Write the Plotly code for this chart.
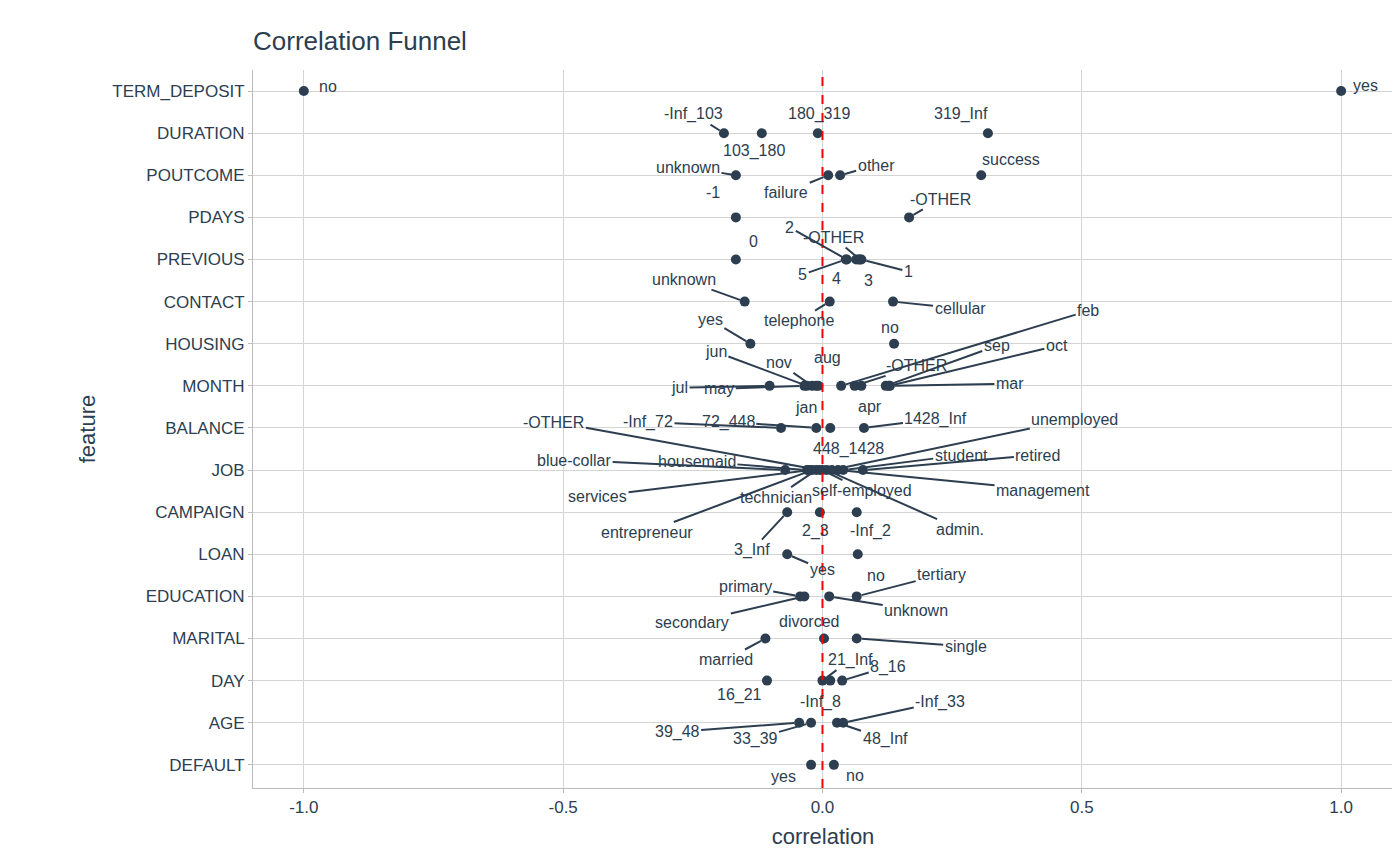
import plotly.graph_objects as go

features = ["TERM_DEPOSIT","DURATION","POUTCOME","PDAYS","PREVIOUS","CONTACT","HOUSING","MONTH",
            "BALANCE","JOB","CAMPAIGN","LOAN","EDUCATION","MARITAL","DAY","AGE","DEFAULT"]

point_feature = (["TERM_DEPOSIT"]*2 + ["DURATION"]*4 + ["POUTCOME"]*4 + ["PDAYS"]*2 + ["PREVIOUS"]*7
    + ["CONTACT"]*3 + ["HOUSING"]*2 + ["MONTH"]*12 + ["BALANCE"]*4 + ["JOB"]*12 + ["CAMPAIGN"]*3
    + ["LOAN"]*2 + ["EDUCATION"]*4 + ["MARITAL"]*3 + ["DAY"]*4 + ["AGE"]*4 + ["DEFAULT"]*2)
point_level = ["no","yes",
    "-Inf_103","103_180","180_319","319_Inf",
    "unknown","failure","other","success",
    "-1","-OTHER",
    "0","1","2","3","4","5","-OTHER",
    "unknown","telephone","cellular",
    "yes","no",
    "jul","may","jun","nov","aug","jan","feb","-OTHER","apr","sep","oct","mar",
    "-Inf_72","72_448","448_1428","1428_Inf",
    "blue-collar","housemaid","services","entrepreneur","technician","-OTHER","self-employed","admin.","unemployed","management","student","retired",
    "3_Inf","2_3","-Inf_2",
    "yes","no",
    "primary","secondary","unknown","tertiary",
    "married","divorced","single",
    "16_21","21_Inf","-Inf_8","8_16",
    "39_48","33_39","48_Inf","-Inf_33",
    "yes","no"]
point_corr = [-1.0, 1.0,
    -0.19, -0.117, -0.009, 0.319,
    -0.167, 0.011, 0.034, 0.306,
    -0.167, 0.167,
    -0.167, 0.075, 0.047, 0.07, 0.065, 0.045, 0.072,
    -0.15, 0.014, 0.136,
    -0.139, 0.138,
    -0.102, -0.035, -0.03, -0.02, -0.012, -0.008, 0.036, 0.062, 0.075, 0.122, 0.128, 0.13,
    -0.08, -0.012, 0.015, 0.08,
    -0.072, -0.03, -0.025, -0.02, -0.012, -0.005, 0.0, 0.008, 0.018, 0.03, 0.04, 0.078,
    -0.068, -0.005, 0.066,
    -0.068, 0.068,
    -0.043, -0.035, 0.013, 0.066,
    -0.11, 0.003, 0.066,
    -0.107, 0.0, 0.015, 0.038,
    -0.045, -0.022, 0.028, 0.04,
    -0.022, 0.022]

# label pixel offsets (dx, dy) from each point
label_offsets = [(24,-5),(24,-6),
    (-30,-19),(-8,18),(1,-19),(-27,-19),
    (-48,-8),(-42,17),(36,-10),(30,-16),
    (-23,-25),(31,-18),
    (18,-18),(47,12),(-57,-32),(10,21),(-20,19),(-43,15),(-26,-22),
    (-61,-22),(-31,19),(67,7),
    (-40,-24),(-4,-16),
    (-90,2),(-85,3),(-91,-34),(-33,-23),(11,-28),(-12,22),(247,-75),(62,-20),(9,21),(111,-40),(168,-40),(120,-2),
    (-133,-6),(-88,-6),(18,21),(72,-9),
    (-211,-10),(-110,-9),(-212,26),(-165,62),(-40,27),(-266,-48),(40,20),(133,59),(243,-51),(205,20),(118,-15),(175,-15),
    (-35,38),(-4,19),(14,19),
    (35,15),(18,21),
    (-55,-10),(-112,26),(87,14),(85,-22),
    (-39,21),(-15,-17),(109,8),
    (-27,14),(28,-21),(-10,21),(46,-14),
    (-122,9),(-56,16),(48,16),(97,-21),
    (-28,12),(21,11)]

dark = "#2c3e50"
yidx = [features.index(f) for f in point_feature]

fig = go.Figure()
fig.add_trace(go.Scatter(x=point_corr, y=yidx, mode="markers",
                         marker=dict(color=dark, size=10), hoverinfo="skip", showlegend=False))

anns = []
for x, y, lab, (dx, dy) in zip(point_corr, yidx, point_level, label_offsets):
    far = (dx*dx + dy*dy) ** 0.5 > 34
    anns.append(dict(x=x, y=y, xref="x", yref="y", text=lab, showarrow=True,
                     arrowhead=0, arrowwidth=2, arrowcolor=dark if far else "rgba(0,0,0,0)",
                     ax=dx, ay=dy, standoff=5, font=dict(size=16, color=dark)))
fig.update_layout(annotations=anns)

fig.add_shape(type="line", x0=0, x1=0, y0=0, y1=1, yref="paper", xref="x",
              line=dict(color="red", width=2, dash="dash"))

fig.update_layout(
    width=1400, height=866, template="none",
    paper_bgcolor="white", plot_bgcolor="white",
    margin=dict(l=245, r=15, t=62, b=86, pad=0, autoexpand=False),
    font=dict(family="Liberation Sans, Arial", color=dark),
    title=dict(text="Correlation Funnel", x=245/1400, xref="container", xanchor="left",
               y=1-33/866, yref="container", yanchor="middle", font=dict(size=26, color=dark)),
    xaxis=dict(range=[-1.098, 1.10], tickvals=[-1, -0.5, 0, 0.5, 1],
               ticktext=["-1.0", "-0.5", "0.0", "0.5", "1.0"], automargin=False,
               showgrid=True, gridcolor="#d4d4d4", zeroline=False,
               showline=True, linecolor="#bbbbbb", ticks="outside", ticklen=4, tickcolor="#bbbbbb",
               tickfont=dict(size=17, color=dark),
               title=dict(text="correlation", font=dict(size=22, color=dark), standoff=12)),
    yaxis=dict(range=[16.55, -0.5], tickvals=list(range(len(features))), ticktext=features,
               automargin=False,
               showgrid=True, gridcolor="#d4d4d4", zeroline=False,
               showline=True, linecolor="#bbbbbb", ticks="outside", ticklen=4, tickcolor="#bbbbbb",
               tickfont=dict(size=17, color=dark),
               title=dict(text="feature", font=dict(size=22, color=dark), standoff=10)),
)
fig.write_html("out.html")
